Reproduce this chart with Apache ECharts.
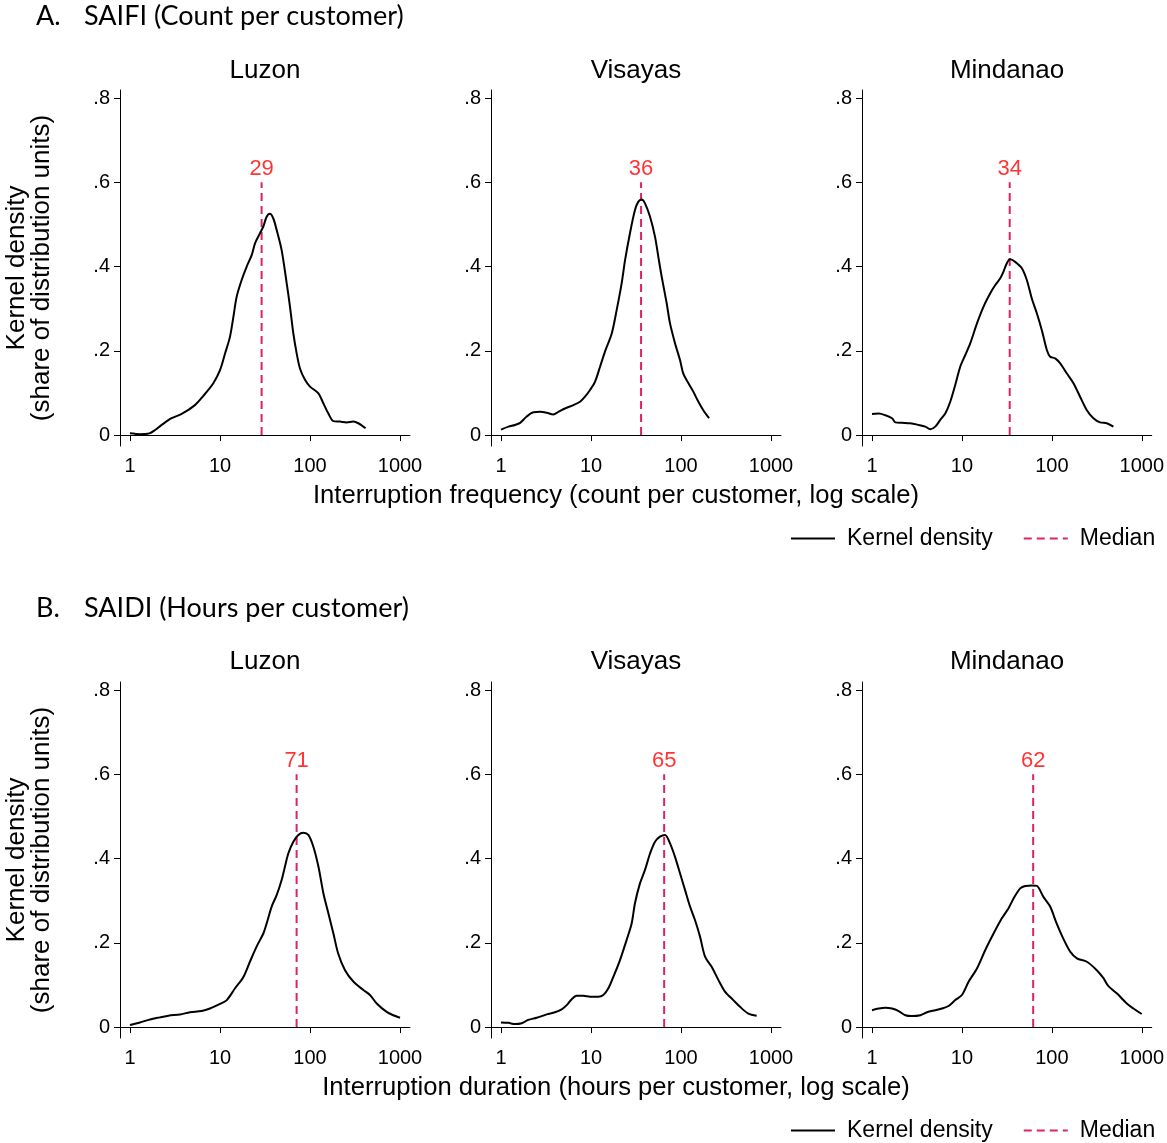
<!DOCTYPE html>
<html>
<head>
<meta charset="utf-8">
<script src="https://cdn.jsdelivr.net/npm/echarts@6/dist/echarts.min.js"></script>
<style>
html,body{margin:0;padding:0;background:#fff;}
#chart{width:1167px;height:1143px;}
</style>
</head>
<body>
<div id="chart"></div>
<script>
// ---------- data ----------
const regions = ['Luzon', 'Visayas', 'Mindanao'];
const xTickValues = [1, 10, 100, 1000];
const yTickValues = [0, 0.2, 0.4, 0.6, 0.8];
const medianTop = 0.6;

const saifiMedians = [29, 36, 34];
const saidiMedians = [71, 65, 62];

// SAIFI – Luzon
const saifiLuzonX = [1.0,1.29,1.64,1.90,2.25,2.90,3.75,5.27,6.53,8.43,10.0,11.4,12.9,14.1,15.3,17.4,19.8,22.5,24.5,27.8,30.3,33.0,35.9,39.1,42.6,48.4,55.1,59.9,65.3,71.1,77.4,88.0,100,124,141,160,182,215,255,303,344,415];
const saifiLuzonY = [0.004,0.002,0.004,0.012,0.024,0.040,0.050,0.071,0.093,0.123,0.154,0.194,0.233,0.281,0.328,0.368,0.400,0.427,0.455,0.479,0.495,0.518,0.525,0.514,0.487,0.439,0.360,0.305,0.241,0.194,0.158,0.131,0.115,0.099,0.075,0.051,0.033,0.032,0.030,0.032,0.028,0.016];
// SAIFI – Visayas
const saifiVisayasX = [1.0,1.21,1.43,1.63,1.93,2.29,2.71,3.22,3.81,4.34,5.14,6.36,7.55,8.58,9.75,11.1,12.6,14.3,17.0,19.3,21.9,23.9,27.1,30.8,33.6,36.5,39.8,45.3,51.4,56.0,61.0,69.3,75.5,85.8,97.5,106,121,137,156,177,205];
const saifiVisayasY = [0.013,0.020,0.024,0.029,0.044,0.054,0.055,0.053,0.049,0.055,0.063,0.071,0.079,0.091,0.107,0.127,0.162,0.198,0.241,0.297,0.360,0.415,0.479,0.534,0.554,0.559,0.550,0.518,0.471,0.423,0.376,0.313,0.265,0.218,0.178,0.146,0.123,0.103,0.079,0.059,0.040];
// SAIFI – Mindanao
const saifiMindanaoX = [1.0,1.19,1.41,1.67,1.82,2.15,2.67,3.30,3.91,4.45,5.06,5.74,6.53,7.42,8.43,9.58,10.9,12.4,14.7,17.4,20.6,23.5,26.7,29.0,31.6,34.4,39.1,46.4,52.7,59.9,68.1,77.4,88.0,95.8,109,124,147,174,206,245,290,344,408,484];
const saifiMindanaoY = [0.050,0.051,0.047,0.040,0.030,0.029,0.028,0.024,0.020,0.014,0.020,0.036,0.051,0.079,0.119,0.162,0.190,0.218,0.265,0.305,0.336,0.356,0.372,0.388,0.408,0.417,0.411,0.396,0.368,0.324,0.289,0.249,0.202,0.186,0.182,0.170,0.146,0.123,0.091,0.059,0.040,0.030,0.028,0.020];
// SAIDI – Luzon
const saidiLuzonX = [1.0,1.29,1.67,2.15,2.67,3.59,4.64,6.25,7.74,10.0,11.9,14.7,18.2,21.5,25.5,30.3,33.0,37.5,42.6,48.4,52.7,57.4,65.3,74.2,84.3,95.8,109,124,141,160,182,206,245,303,391,464,551,711,843,1000];
const saidiLuzonY = [0.005,0.011,0.018,0.023,0.027,0.030,0.035,0.038,0.044,0.055,0.064,0.092,0.119,0.155,0.191,0.222,0.246,0.286,0.313,0.349,0.381,0.412,0.440,0.456,0.461,0.456,0.428,0.381,0.317,0.270,0.222,0.174,0.135,0.108,0.088,0.076,0.056,0.036,0.028,0.022];
// SAIDI – Visayas
const saidiVisayasX = [1.0,1.21,1.43,1.70,2.01,2.49,3.22,3.98,4.72,5.37,6.10,6.93,8.22,9.75,12.1,13.7,15.6,17.7,21.0,24.9,28.3,30.8,35.0,39.8,45.3,51.4,58.4,66.4,75.5,85.8,97.5,111,126,143,163,185,219,260,308,381,453,560,693];
const saidiVisayasY = [0.011,0.010,0.007,0.009,0.017,0.022,0.030,0.035,0.042,0.052,0.066,0.074,0.074,0.072,0.072,0.076,0.092,0.119,0.159,0.207,0.246,0.294,0.341,0.373,0.412,0.440,0.452,0.456,0.436,0.404,0.365,0.325,0.286,0.254,0.214,0.167,0.143,0.112,0.084,0.064,0.048,0.032,0.027];
// SAIDI – Mindanao
const saidiMindanaoX = [1.0,1.19,1.41,1.67,1.98,2.35,2.78,3.45,4.09,5.06,5.99,7.10,8.43,10.0,11.9,14.7,18.2,22.5,27.8,33.0,37.5,44.5,50.6,60.0,68.1,80.6,95.8,113,134,160,190,245,316,375,426,527,681,808,1000];
const saidiMindanaoY = [0.040,0.044,0.046,0.044,0.038,0.028,0.026,0.028,0.035,0.040,0.044,0.050,0.064,0.076,0.108,0.139,0.183,0.222,0.258,0.282,0.305,0.329,0.335,0.336,0.335,0.309,0.286,0.246,0.210,0.179,0.163,0.155,0.135,0.116,0.097,0.080,0.056,0.044,0.031];

const curvesX = [saifiLuzonX, saifiVisayasX, saifiMindanaoX, saidiLuzonX, saidiVisayasX, saidiMindanaoX];
const curvesY = [saifiLuzonY, saifiVisayasY, saifiMindanaoY, saidiLuzonY, saidiVisayasY, saidiMindanaoY];
const medians = saifiMedians.concat(saidiMedians);

// ---------- layout ----------
const FONT = '"Liberation Sans", Arial, sans-serif';
const TITLE_FONT = 'Lato, "Open Sans", sans-serif';
const gridLefts = [120, 491, 862];
const gridTops = [90, 682];
const gridW = 290, gridH = 356;
const xMin = Math.pow(10, -1/9), xMax = Math.pow(10, 3 + 1/9);
const yMin = -0.026, yMax = 0.819;
const medianColor = '#dc2365';

const grids = [], xAxes = [], yAxes = [], series = [];
for (let r = 0; r < 2; r++) {
  for (let c = 0; c < 3; c++) {
    const i = r * 3 + c;
    grids.push({left: gridLefts[c], top: gridTops[r], width: gridW, height: gridH, containLabel: false});
    xAxes.push({
      type: 'log', logBase: 10, gridIndex: i, min: xMin, max: xMax,
      axisLine: {show: true, lineStyle: {color: '#000', width: 1}},
      axisTick: {show: true, length: 6, lineStyle: {color: '#000'}, customValues: xTickValues},
      minorTick: {show: false},
      axisLabel: {show: true, color: '#000', fontFamily: FONT, fontSize: 20, margin: 10, customValues: xTickValues,
        formatter: v => String(Math.round(v))},
      splitLine: {show: false}, minorSplitLine: {show: false}
    });
    yAxes.push({
      type: 'value', gridIndex: i, min: yMin, max: yMax,
      axisLine: {show: true, lineStyle: {color: '#000', width: 1}},
      axisTick: {show: true, length: 6, lineStyle: {color: '#000'}, customValues: yTickValues},
      axisLabel: {show: true, color: '#000', fontFamily: FONT, fontSize: 20, margin: 10, customValues: yTickValues,
        formatter: v => (Math.abs(v) < 1e-9 ? '0' : v.toFixed(1).replace(/^0\./, '.'))},
      splitLine: {show: false}
    });
    series.push({
      name: 'Kernel density', type: 'line', xAxisIndex: i, yAxisIndex: i,
      data: curvesX[i].map((x, k) => [x, curvesY[i][k]]),
      smooth: 0.3, symbol: 'none', showSymbol: false,
      lineStyle: {color: '#000', width: 2}, itemStyle: {color: '#000'},
      silent: true, z: 3
    });
    series.push({
      name: 'Median', type: 'line', xAxisIndex: i, yAxisIndex: i,
      data: [[medians[i], 0], [medians[i], medianTop]],
      symbol: 'none', showSymbol: false,
      lineStyle: {color: medianColor, width: 2, type: [8, 5]}, itemStyle: {color: medianColor},
      silent: true, z: 2
    });
    series.push({
      name: 'Median value', type: 'scatter', xAxisIndex: i, yAxisIndex: i,
      data: [[medians[i], medianTop]],
      symbol: 'circle', symbolSize: 1, itemStyle: {color: 'rgba(0,0,0,0)'},
      label: {show: true, position: 'top', distance: 2, color: '#ff0000', fontFamily: FONT, fontSize: 22,
        formatter: p => String(p.value[0])},
      silent: true, z: 4
    });
  }
}

const graphics = [];
// section titles
const sectionTitles = [['A.', 'SAIFI (Count per customer)', 16], ['B.', 'SAIDI (Hours per customer)', 608]];
sectionTitles.forEach(t => {
  graphics.push({type: 'text', x: 36, y: t[2], style: {text: t[0], font: '27px ' + TITLE_FONT, fill: '#000', textVerticalAlign: 'middle'}});
  graphics.push({type: 'text', x: 84, y: t[2], style: {text: t[1], font: '27px ' + TITLE_FONT, fill: '#000', textVerticalAlign: 'middle'}});
});
// panel titles
const titleYs = [71, 662];
for (let r = 0; r < 2; r++) for (let c = 0; c < 3; c++) {
  graphics.push({type: 'text', x: gridLefts[c] + gridW / 2, y: titleYs[r],
    style: {text: regions[c], font: '26px ' + FONT, fill: '#000', textAlign: 'center', textVerticalAlign: 'middle'}});
}
// y axis titles
[268, 860].forEach(cy => {
  graphics.push({type: 'text', x: 29, y: cy, rotation: Math.PI / 2,
    style: {text: 'Kernel density\n(share of distribution units)', font: '26px ' + FONT, fill: '#000',
      textAlign: 'center', textVerticalAlign: 'middle', lineHeight: 25}});
});
// x axis titles
const xTitles = [['Interruption frequency (count per customer, log scale)', 496], ['Interruption duration (hours per customer, log scale)', 1088]];
xTitles.forEach(t => {
  graphics.push({type: 'text', x: 616, y: t[1],
    style: {text: t[0], font: '25.6px ' + FONT, fill: '#000', textAlign: 'center', textVerticalAlign: 'middle'}});
});

const legendBase = {
  data: ['Kernel density', 'Median'], left: 790, orient: 'horizontal', padding: 0,
  itemWidth: 44, itemHeight: 14, itemGap: 30, selectedMode: false,
  itemStyle: {opacity: 0},
  textStyle: {fontFamily: FONT, fontSize: 23, color: '#000', padding: [0, 0, 0, 7]}
};

const chart = echarts.init(document.getElementById('chart'), null, {renderer: 'canvas'});
chart.setOption({
  animation: false,
  backgroundColor: '#fff',
  grid: grids, xAxis: xAxes, yAxis: yAxes, series: series,
  legend: [Object.assign({}, legendBase, {top: 527}), Object.assign({}, legendBase, {top: 1119})],
  graphic: graphics
});
</script>
</body>
</html>
